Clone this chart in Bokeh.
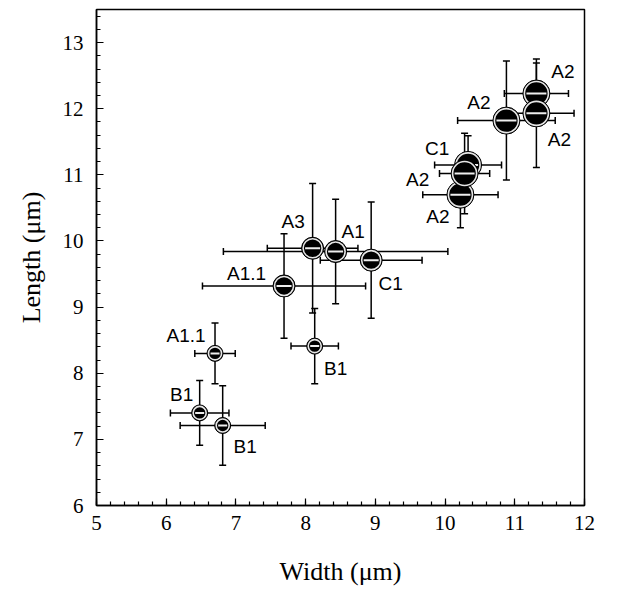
from bokeh.plotting import figure
from bokeh.models import (ColumnDataSource, Whisker, TeeHead, SingleIntervalTicker,
                          CDSView, IndexFilter, Range1d, Title)
from bokeh.core.properties import value
from bokeh.embed import file_html
from bokeh.resources import INLINE

# ---- data (drawing order) ----
labels = ["B1", "B1", "A1.1", "B1", "A1.1", "C1", "A3", "A1",
          "A2", "C1", "A2", "A2", "A2", "A2"]
width = [6.48, 6.81, 6.70, 8.13, 7.69, 8.94, 8.10, 8.43,
         10.22, 10.33, 10.28, 10.88, 11.31, 11.31]
length = [7.40, 7.21, 8.30, 8.41, 9.32, 9.71, 9.89, 9.84,
          10.70, 11.15, 11.02, 11.82, 12.23, 11.93]
width_err = [0.42, 0.61, 0.29, 0.34, 1.17, 0.73, 0.65, 1.61,
             0.54, 0.48, 0.36, 0.70, 0.46, 0.54]
length_err = [0.49, 0.60, 0.46, 0.57, 0.79, 0.88, 0.98, 0.79,
              0.50, 0.44, 0.61, 0.90, 0.46, 0.82]
size_class = ["S", "S", "S", "S", "M", "M", "M", "M",
              "L", "L", "L", "L", "L", "L"]

# ---- styling / layout ----
diam = {"S": 16, "M": 22, "L": 27}
# label offsets (screen px) from marker centre to label centre
label_dx = [-18, 22.5, -29, 21, -37.5, 19.5, -19.5, 17.5,
            -22.5, -31, -47, -27.5, 26.5, 23]
label_dy = [-18.5, 21, -17.5, 22, -12.5, 23.5, -26.5, -20.5,
            21.5, -16.5, 5.5, -18.5, -21.5, 26.5]

src = ColumnDataSource(dict(
    x=width, y=length, label=labels,
    xl=[w - e for w, e in zip(width, width_err)],
    xu=[w + e for w, e in zip(width, width_err)],
    yl=[l - e for l, e in zip(length, length_err)],
    yu=[l + e for l, e in zip(length, length_err)],
    d=[diam[s] for s in size_class],
    d_ring=[diam[s] - 3 for s in size_class],
    d_dash=[diam[s] - 7 for s in size_class],
    dx=label_dx, dy=label_dy,
))

p = figure(frame_width=488, frame_height=496,
           x_range=Range1d(5, 12), y_range=Range1d(6, 13.5),
           output_backend="svg", toolbar_location=None,
           min_border_left=96, min_border_right=12,
           min_border_top=9, min_border_bottom=80,
           x_axis_label="Width (μm)")

p.add_layout(Title(text="Length (μm)", align="center", offset=36, standoff=27,
                   text_font="Liberation Serif", text_font_size="26px",
                   text_font_style="normal", text_color="black"), "left")

p.xaxis.ticker = SingleIntervalTicker(interval=1, num_minor_ticks=5)
p.yaxis.ticker = SingleIntervalTicker(interval=1, num_minor_ticks=5)
p.xgrid.visible = False
p.ygrid.visible = False
p.outline_line_color = "black"
p.outline_line_width = 1.5
p.outline_line_alpha = 1.0
p.background_fill_color = "white"
p.border_fill_color = "white"

for ax in (p.xaxis[0], p.yaxis[0]):
    ax.major_tick_in = 7
    ax.major_tick_out = 0
    ax.minor_tick_in = 4
    ax.minor_tick_out = 0
    ax.axis_line_width = 1.5
    ax.axis_line_color = "black"
    ax.major_tick_line_width = 1.2
    ax.minor_tick_line_width = 1.2
    ax.major_tick_line_color = "black"
    ax.minor_tick_line_color = "black"
    ax.major_label_text_font = "Liberation Serif"
    ax.major_label_text_font_size = "21px"
    ax.major_label_text_color = "black"
    ax.axis_label_text_font = "Liberation Serif"
    ax.axis_label_text_font_size = "26px"
    ax.axis_label_text_font_style = "normal"
    ax.axis_label_text_color = "black"

p.xaxis.major_label_standoff = 10
p.xaxis.axis_label_standoff = 24
p.yaxis.major_label_standoff = 13

# error bars
head = dict(size=7, line_width=1.5, line_color="black")
p.add_layout(Whisker(source=src, base="x", lower="yl", upper="yu", dimension="height",
                     line_width=1.5, line_color="black", level="underlay",
                     upper_head=TeeHead(**head), lower_head=TeeHead(**head)))
p.add_layout(Whisker(source=src, base="y", lower="xl", upper="xu", dimension="width",
                     line_width=1.5, line_color="black", level="underlay",
                     upper_head=TeeHead(**head), lower_head=TeeHead(**head)))

# markers, one point at a time so overlaps stack correctly
for i in range(len(width)):
    view = CDSView(filter=IndexFilter([i]))
    p.scatter("x", "y", source=src, view=view, marker="circle", size="d",
              fill_color="black", line_color="black", line_width=1)
    p.scatter("x", "y", source=src, view=view, marker="circle", size="d_ring",
              fill_color="black", line_color="#e6e6e6", line_width=1.6)
    p.scatter("x", "y", source=src, view=view, marker="dash", size="d_dash",
              line_color="#eeeeee", line_width=2)

p.text("x", "y", text="label", source=src, x_offset="dx", y_offset="dy",
       text_align="center", text_baseline="middle",
       text_font=value("Liberation Sans"), text_font_size="19px", text_color="black")

open("out.html", "w").write(file_html(p, INLINE))
